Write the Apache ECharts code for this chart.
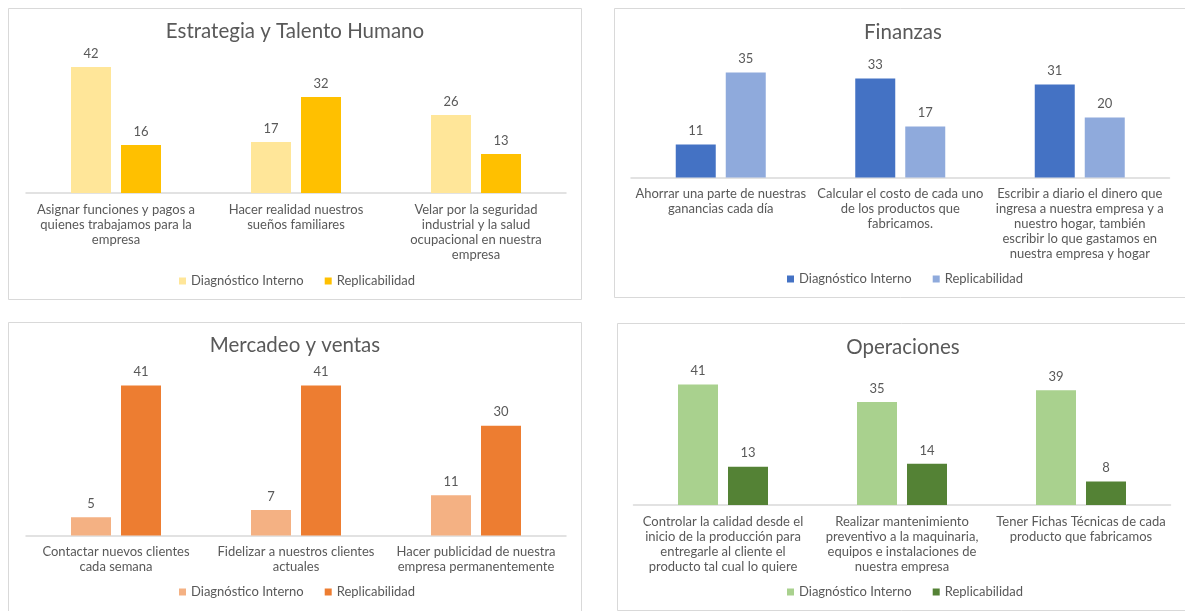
<!DOCTYPE html>
<html>
<head>
<meta charset="utf-8">
<script src="https://cdn.jsdelivr.net/npm/echarts@6/dist/echarts.min.js"></script>
<style>
  html, body { margin: 0; padding: 0; background: #ffffff; }
  #chart { width: 1185px; height: 611px; }
</style>
</head>
<body>
<div id="chart"></div>
<script>
// Series names shared by all four panels
const seriesNames = ['Diagnóstico Interno', 'Replicabilidad'];

// Estrategia y Talento Humano
const estrategiaTitle = 'Estrategia y Talento Humano';
const estrategiaCats = [
  'Asignar funciones y pagos a\nquienes trabajamos para la\nempresa',
  'Hacer realidad nuestros\nsueños familiares',
  'Velar por la seguridad\nindustrial y la salud\nocupacional en nuestra\nempresa'
];
const estrategiaDiag = [42, 17, 26];
const estrategiaRepl = [16, 32, 13];

// Finanzas
const finanzasTitle = 'Finanzas';
const finanzasCats = [
  'Ahorrar una parte de nuestras\nganancias cada día',
  'Calcular el costo de cada uno\nde los productos que\nfabricamos.',
  'Escribir a diario el dinero que\ningresa a nuestra empresa y a\nnuestro hogar, también\nescribir lo que gastamos en\nnuestra empresa y hogar'
];
const finanzasDiag = [11, 33, 31];
const finanzasRepl = [35, 17, 20];

// Mercadeo y ventas
const mercadeoTitle = 'Mercadeo y ventas';
const mercadeoCats = [
  'Contactar nuevos clientes\ncada semana',
  'Fidelizar a nuestros clientes\nactuales',
  'Hacer publicidad de nuestra\nempresa permanentemente'
];
const mercadeoDiag = [5, 7, 11];
const mercadeoRepl = [41, 41, 30];

// Operaciones
const operacionesTitle = 'Operaciones';
const operacionesCats = [
  'Controlar la calidad desde el\ninicio de la producción para\nentregarle al cliente el\nproducto tal cual lo quiere',
  'Realizar mantenimiento\npreventivo a la maquinaria,\nequipos e instalaciones de\nnuestra empresa',
  'Tener Fichas Técnicas de cada\nproducto que fabricamos'
];
const operacionesDiag = [41, 35, 39];
const operacionesRepl = [13, 14, 8];

const FONT = 'Lato, "Open Sans", sans-serif';
const TEXT = '#595959';
const TITLE_SIZE = 20.5;
const LEGEND_WIDTH = 236;

// Layout of each panel: frame, plot area, title and legend placement
const panels = [
  { title: estrategiaTitle, cats: estrategiaCats, diag: estrategiaDiag, repl: estrategiaRepl,
    colors: ['#FFE699', '#FFC000'],
    frame: [8.5, 8.5, 573, 291], grid: { left: 26, width: 540, top: 58, height: 135 }, yMax: 45,
    cx: 297, titleY: 30, legendY: 281 },
  { title: finanzasTitle, cats: finanzasCats, diag: finanzasDiag, repl: finanzasRepl,
    colors: ['#4472C4', '#8FAADC'],
    frame: [614.5, 8.5, 590, 289], grid: { left: 631, width: 538.5, top: 57.5, height: 120 }, yMax: 40,
    cx: 905, titleY: 31, legendY: 279 },
  { title: mercadeoTitle, cats: mercadeoCats, diag: mercadeoDiag, repl: mercadeoRepl,
    colors: ['#F4B183', '#ED7D31'],
    frame: [8.5, 322.5, 573, 300], grid: { left: 26, width: 540, top: 370.8, height: 164.7 }, yMax: 45,
    cx: 297, titleY: 344, legendY: 592 },
  { title: operacionesTitle, cats: operacionesCats, diag: operacionesDiag, repl: operacionesRepl,
    colors: ['#A9D18E', '#548235'],
    frame: [617.5, 323.5, 590, 287], grid: { left: 633.5, width: 537, top: 372.7, height: 132.3 }, yMax: 45,
    cx: 905, titleY: 346, legendY: 592 }
];

const option = {
  backgroundColor: '#ffffff',
  animation: false,
  title: [], legend: [], grid: [], xAxis: [], yAxis: [], series: [], graphic: []
};

panels.forEach((p, i) => {
  option.graphic.push({
    type: 'rect', silent: true, z: -1,
    shape: { x: p.frame[0], y: p.frame[1], width: p.frame[2], height: p.frame[3] },
    style: { fill: '#ffffff', stroke: '#d9d9d9', lineWidth: 1 }
  });
  option.title.push({
    text: p.title, left: p.cx - 2, top: p.titleY - TITLE_SIZE / 2 + 1, textAlign: 'center', padding: 0,
    textStyle: { fontFamily: FONT, fontSize: TITLE_SIZE, fontWeight: 'normal', color: TEXT }
  });
  option.legend.push({
    data: seriesNames.map((n, k) => ({ name: n, itemStyle: { color: p.colors[k] } })),
    left: p.cx - LEGEND_WIDTH / 2, top: p.legendY - 8, padding: 0,
    icon: 'rect', itemWidth: 7, itemHeight: 7, itemGap: 21,
    selectedMode: false,
    textStyle: { fontFamily: FONT, fontSize: 13, color: TEXT, lineHeight: 16 }
  });
  option.grid.push(Object.assign({ containLabel: false }, p.grid));
  option.xAxis.push({
    type: 'category', gridIndex: i, data: p.cats,
    axisLine: { lineStyle: { color: '#d9d9d9', width: 1.5 } },
    axisTick: { show: false },
    axisLabel: { interval: 0, margin: 9, fontFamily: FONT, fontSize: 13, lineHeight: 15, color: TEXT, align: 'center' }
  });
  option.yAxis.push({ type: 'value', gridIndex: i, min: 0, max: p.yMax, show: false, splitLine: { show: false } });
  [p.diag, p.repl].forEach((vals, k) => {
    option.series.push({
      type: 'bar', name: seriesNames[k], xAxisIndex: i, yAxisIndex: i,
      data: vals, barWidth: 40, barGap: '25%',
      itemStyle: { color: p.colors[k] },
      label: { show: true, position: 'top', distance: 7, fontFamily: FONT, fontSize: 13, color: TEXT }
    });
  });
});

const chart = echarts.init(document.getElementById('chart'), null, { renderer: 'canvas' });
chart.setOption(option);
</script>
</body>
</html>
